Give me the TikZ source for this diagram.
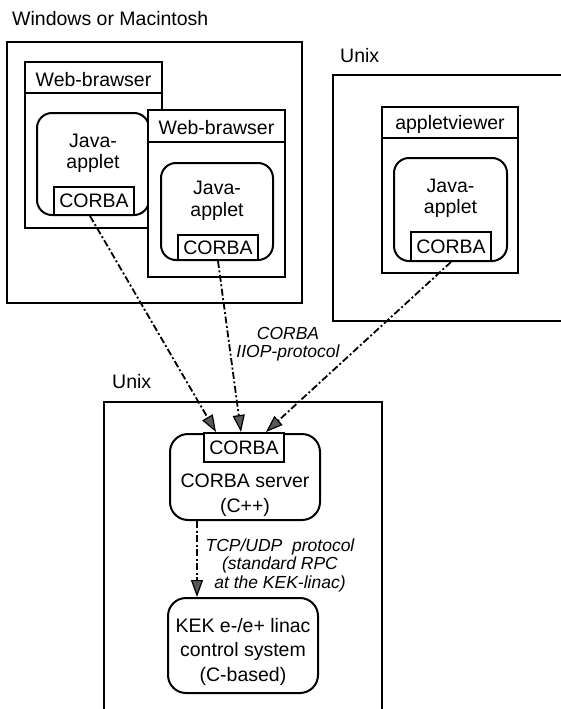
\documentclass[tikz,border=0pt]{standalone}
\usepackage{fontspec}
\setmainfont{Liberation Sans}
\usetikzlibrary{arrows.meta,calc}
\begin{document}
\begin{tikzpicture}[x=1pt,y=-1pt,
  box/.style={draw,line width=2pt,inner sep=0pt,fill=white},
  rbox/.style={box,rounded corners=15pt},
  srvbox/.style={box,rounded corners=18pt},
  big/.style={font=\fontsize{19.5}{21.5}\selectfont,align=center,inner sep=0pt},
  bigs/.style={font=\fontsize{19.5}{24.5}\selectfont,align=center,inner sep=0pt},
  lbl/.style={font=\fontsize{17.5}{18.5}\selectfont\itshape,align=center,inner sep=0pt},
  flow/.style={line width=1.8pt,dash pattern=on 7pt off 2.5pt on 2pt off 2.5pt,
    -{Triangle[length=17pt,width=12pt,fill=black!65,line width=1.2pt]}}]
\useasboundingbox (0,0) rectangle (561,709);

% platform labels and frames
\node[big,anchor=base west] (winlbl) at (12,26) {Windows or Macintosh};
\node[box,fill=none,minimum width=295,minimum height=261] (win) at (154.5,172.5) {};
\node[big,anchor=base west] (unixlbl1) at (340,63) {Unix};
\node[box,fill=none,minimum width=237,minimum height=246] (unix1) at (451.5,198) {};
\node[big,anchor=base west] (unixlbl2) at (112,388) {Unix};
\node[box,fill=none,minimum width=278,minimum height=318] (unix2) at (243,561) {};

% browser 1
\node[box,minimum width=137,minimum height=166] (b1) at (93.5,145) {};
\draw[line width=2pt] ($(b1.north west)+(0,32)$) -- ($(b1.north east)+(0,32)$);
\node[big] (b1t) at (93.5,80) {Web-brawser};
\node[rbox,minimum width=112,minimum height=102] (j1) at (93,164) {};
\node[big] (j1t) at (93,153.5) {Java-\\applet};
\node[box,minimum width=80,minimum height=28] (c1) at (94,201) {};
\node[big] (c1t) at (94,201) {CORBA};

% browser 2
\node[box,minimum width=137,minimum height=167] (b2) at (216.5,193.5) {};
\draw[line width=2pt] ($(b2.north west)+(0,33)$) -- ($(b2.north east)+(0,33)$);
\node[big] (b2t) at (216.5,128) {Web-brawser};
\node[rbox,minimum width=112,minimum height=97] (j2) at (217,211.5) {};
\node[big] (j2t) at (217,201) {Java-\\applet};
\node[box,minimum width=80,minimum height=25] (c2) at (218,247.5) {};
\node[big] (c2t) at (218,248) {CORBA};

% appletviewer
\node[box,minimum width=136,minimum height=166] (av) at (450,190) {};
\draw[line width=2pt] ($(av.north west)+(0,32)$) -- ($(av.north east)+(0,32)$);
\node[big] (avt) at (450,124) {appletviewer};
\node[rbox,minimum width=113,minimum height=103] (j3) at (450.5,209.5) {};
\node[big] (j3t) at (450.5,198.5) {Java-\\applet};
\node[box,minimum width=80,minimum height=29] (c3) at (451,246.5) {};
\node[big] (c3t) at (451,247) {CORBA};

% server
\node[srvbox,minimum width=150,minimum height=86] (srv) at (245,477) {};
\node[bigs] (srvt) at (245,495) {CORBA server\\(C++)};
\node[box,minimum width=80,minimum height=29] (sc) at (244,447.5) {};
\node[big] (sct) at (244,448) {CORBA};

% KEK
\node[srvbox,minimum width=150,minimum height=95] (kek) at (243,645.5) {};
\node[bigs] (kekt) at (243,651.5) {KEK e-/e+ linac\\control system\\(C-based)};

% labels
\node[lbl] (iiop) at (288,344) {CORBA\\IIOP-protocol};
\node[lbl] (tcp) at (280,565) {TCP/UDP\ \ protocol\\(standard RPC\\at the KEK-linac)};

% connectors
\draw[flow] ($(c1.south)+(-4,0)$) -- ($(sc.north west)+(13,0)$);
\draw[flow] (c2.south) -- ($(sc.north west)+(38,0)$);
\draw[flow] (c3.south) -- ($(sc.north west)+(63,0)$);
\draw[flow] ($(srv.south west)+(28,0)$) -- ($(kek.north west)+(30,0)$);
\end{tikzpicture}
\end{document}
